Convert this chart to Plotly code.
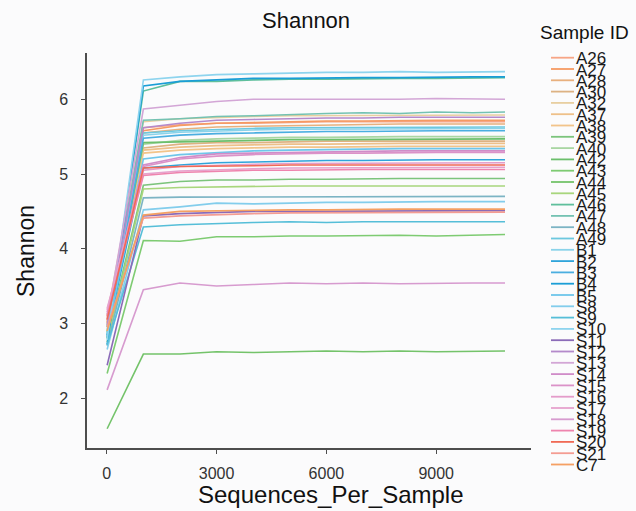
import plotly.graph_objects as go

seq_per_sample = [10, 1000, 2000, 3000, 4000, 5000, 6000, 7000, 8000, 9000, 10000, 10880]

sample_ids = ["A26", "A27", "A28", "A30", "A32", "A37", "A38", "A39", "A40", "A42", "A43",
              "A44", "A45", "A46", "A47", "A48", "A49", "B1", "B2", "B3", "B4", "B5",
              "S8", "S9", "S10", "S11", "S12", "S13", "S14", "S15", "S16", "S17", "S18",
              "S19", "S20", "S21", "C7"]

colors = ["#F7A585", "#F59A62", "#E8B07E", "#DDB283", "#E8CFA0", "#EEC089", "#F2C48A",
          "#7CC47C", "#A9D6A2", "#6CBF6C", "#7ECB72", "#74C36A", "#A8D67C", "#5FBF9C",
          "#74C2B2", "#7CB4C4", "#6CC8DF", "#8AD3EA", "#2FA4DA", "#4AAEE0", "#1B9ED6",
          "#6EC6EA", "#82CDEC", "#56BED8", "#8ED4EE", "#8B6BB8", "#B48ACB", "#D3A6D6",
          "#D08CC8", "#DB92C8", "#E49CCA", "#E6A2CD", "#D79BCF", "#EE84AE", "#F06A55",
          "#F49C92", "#F5A063"]

shannon = {
    "A26": [3.08, 5.62, 5.66, 5.68, 5.68, 5.69, 5.70, 5.70, 5.70, 5.70, 5.70, 5.70],
    "A27": [3.02, 5.58, 5.65, 5.68, 5.69, 5.70, 5.71, 5.71, 5.72, 5.72, 5.72, 5.72],
    "A28": [3.00, 5.55, 5.60, 5.63, 5.64, 5.65, 5.66, 5.66, 5.67, 5.67, 5.67, 5.67],
    "A30": [2.96, 5.35, 5.40, 5.42, 5.42, 5.43, 5.44, 5.44, 5.44, 5.44, 5.44, 5.44],
    "A32": [3.10, 5.70, 5.74, 5.76, 5.77, 5.78, 5.78, 5.79, 5.79, 5.79, 5.79, 5.79],
    "A37": [3.05, 5.32, 5.36, 5.38, 5.39, 5.40, 5.40, 5.41, 5.41, 5.41, 5.41, 5.41],
    "A38": [3.00, 5.28, 5.32, 5.34, 5.35, 5.36, 5.36, 5.37, 5.37, 5.37, 5.37, 5.37],
    "A39": [2.80, 4.85, 4.90, 4.92, 4.92, 4.93, 4.93, 4.94, 4.94, 4.94, 4.94, 4.94],
    "A40": [2.90, 5.40, 5.45, 5.47, 5.48, 5.49, 5.49, 5.50, 5.50, 5.50, 5.50, 5.50],
    "A42": [2.88, 5.42, 5.43, 5.44, 5.45, 5.46, 5.46, 5.46, 5.47, 5.47, 5.47, 5.47],
    "A43": [2.33, 4.11, 4.10, 4.16, 4.16, 4.17, 4.17, 4.18, 4.18, 4.17, 4.18, 4.19],
    "A44": [1.59, 2.59, 2.59, 2.62, 2.61, 2.62, 2.63, 2.62, 2.63, 2.62, 2.63, 2.63],
    "A45": [2.75, 4.80, 4.82, 4.83, 4.83, 4.84, 4.84, 4.84, 4.84, 4.84, 4.84, 4.84],
    "A46": [2.80, 6.11, 6.24, 6.24, 6.26, 6.27, 6.27, 6.28, 6.28, 6.28, 6.28, 6.29],
    "A47": [2.95, 5.72, 5.74, 5.77, 5.78, 5.80, 5.81, 5.82, 5.81, 5.83, 5.82, 5.83],
    "A48": [2.70, 4.68, 4.69, 4.69, 4.70, 4.70, 4.70, 4.70, 4.70, 4.70, 4.70, 4.70],
    "A49": [2.85, 5.55, 5.58, 5.60, 5.61, 5.62, 5.62, 5.63, 5.63, 5.63, 5.63, 5.63],
    "B1":  [2.92, 5.52, 5.56, 5.58, 5.59, 5.60, 5.60, 5.61, 5.61, 5.61, 5.61, 5.61],
    "B2":  [2.84, 5.08, 5.12, 5.15, 5.16, 5.17, 5.18, 5.18, 5.19, 5.19, 5.19, 5.19],
    "B3":  [2.82, 5.48, 5.52, 5.54, 5.55, 5.56, 5.57, 5.57, 5.58, 5.58, 5.58, 5.58],
    "B4":  [2.72, 6.18, 6.24, 6.26, 6.28, 6.28, 6.29, 6.29, 6.29, 6.30, 6.30, 6.30],
    "B5":  [2.86, 5.20, 5.26, 5.29, 5.31, 5.32, 5.33, 5.33, 5.34, 5.34, 5.34, 5.34],
    "S8":  [2.65, 4.52, 4.56, 4.61, 4.60, 4.61, 4.62, 4.62, 4.63, 4.63, 4.63, 4.63],
    "S9":  [2.71, 4.29, 4.32, 4.34, 4.35, 4.36, 4.35, 4.36, 4.36, 4.36, 4.36, 4.36],
    "S10": [2.78, 6.26, 6.30, 6.33, 6.34, 6.35, 6.36, 6.36, 6.37, 6.36, 6.37, 6.37],
    "S11": [2.44, 4.44, 4.47, 4.49, 4.50, 4.50, 4.50, 4.51, 4.51, 4.51, 4.51, 4.51],
    "S12": [2.98, 5.62, 5.68, 5.72, 5.73, 5.74, 5.75, 5.75, 5.76, 5.76, 5.76, 5.76],
    "S13": [3.05, 5.87, 5.92, 5.97, 6.00, 6.00, 6.00, 5.99, 6.00, 6.01, 6.00, 6.00],
    "S14": [3.12, 5.12, 5.22, 5.27, 5.28, 5.29, 5.30, 5.30, 5.31, 5.31, 5.31, 5.31],
    "S15": [3.15, 5.10, 5.20, 5.24, 5.26, 5.27, 5.28, 5.28, 5.29, 5.29, 5.29, 5.29],
    "S16": [3.18, 5.05, 5.10, 5.12, 5.13, 5.14, 5.14, 5.15, 5.15, 5.15, 5.15, 5.15],
    "S17": [3.20, 5.00, 5.04, 5.06, 5.07, 5.08, 5.08, 5.09, 5.09, 5.09, 5.09, 5.09],
    "S18": [2.11, 3.45, 3.54, 3.50, 3.52, 3.54, 3.53, 3.54, 3.53, 3.54, 3.54, 3.54],
    "S19": [3.10, 4.98, 5.02, 5.04, 5.05, 5.05, 5.06, 5.06, 5.06, 5.06, 5.06, 5.06],
    "S20": [3.05, 5.08, 5.10, 5.11, 5.11, 5.12, 5.12, 5.12, 5.12, 5.12, 5.12, 5.12],
    "S21": [2.95, 4.41, 4.44, 4.46, 4.47, 4.48, 4.48, 4.49, 4.49, 4.49, 4.49, 4.49],
    "C7":  [2.90, 4.45, 4.50, 4.51, 4.52, 4.52, 4.52, 4.53, 4.53, 4.53, 4.53, 4.53],
}

x_ticks = [0, 3000, 6000, 9000]
y_ticks = [2, 3, 4, 5, 6]

FONT = "Liberation Sans, Arial, sans-serif"
W, H = 636, 511
L, R, T, B = 87, 105, 53, 63
PW, PH = W - L - R, H - T - B


def px2paper_x(px):
    return (px - L) / PW


def px2paper_y(py):
    return (H - B - py) / PH


fig = go.Figure()
for sid, col in zip(sample_ids, colors):
    fig.add_trace(go.Scatter(x=seq_per_sample, y=shannon[sid], mode="lines", name=sid,
                             line=dict(color=col, width=1.6), showlegend=False))

axis_col = "#4D4D4D"
fig.update_layout(
    width=W, height=H,
    margin=dict(l=L, r=R, t=T, b=B),
    paper_bgcolor="#FBFBFC", plot_bgcolor="#FBFBFC",
    font=dict(family=FONT, color="#333333"),
    showlegend=False,
    xaxis=dict(range=[-540, 11590], tickvals=x_ticks, ticks="outside", ticklen=4,
               tickcolor=axis_col, showline=True, linecolor=axis_col, linewidth=1.5,
               showgrid=False, zeroline=False, tickfont=dict(size=16, color="#333333"),
               ticklabelstandoff=6),
    yaxis=dict(range=[1.332, 6.62], tickvals=y_ticks, ticks="outside", ticklen=4,
               tickcolor=axis_col, showline=True, linecolor=axis_col, linewidth=1.5,
               showgrid=False, zeroline=False, tickfont=dict(size=16, color="#333333"),
               ticklabelstandoff=10),
)

ann = []
# titles
ann.append(dict(text="Shannon", x=px2paper_x(306), y=px2paper_y(20), xref="paper", yref="paper",
                showarrow=False, font=dict(size=22, color="#111111"), xanchor="center", yanchor="middle"))
ann.append(dict(text="Sequences_Per_Sample", x=px2paper_x(331), y=px2paper_y(494), xref="paper", yref="paper",
                showarrow=False, font=dict(size=24, color="#111111"), xanchor="center", yanchor="middle"))
ann.append(dict(text="Shannon", x=px2paper_x(26), y=px2paper_y(251), xref="paper", yref="paper",
                showarrow=False, textangle=-90, font=dict(size=23, color="#111111"),
                xanchor="center", yanchor="middle"))
# manual legend
ann.append(dict(text="Sample ID", x=px2paper_x(584), y=px2paper_y(33), xref="paper", yref="paper",
                showarrow=False, font=dict(size=19, color="#111111"), xanchor="center", yanchor="middle"))
shapes = []
for i, (sid, col) in enumerate(zip(sample_ids, colors)):
    py = 57.7 + 11.3 * i
    shapes.append(dict(type="line", xref="paper", yref="paper",
                       x0=px2paper_x(551), x1=px2paper_x(574), y0=px2paper_y(py), y1=px2paper_y(py),
                       line=dict(color=col, width=1.8)))
    ann.append(dict(text=sid, x=px2paper_x(574), y=px2paper_y(py + 1), xref="paper", yref="paper",
                    showarrow=False, font=dict(size=17, color="#1a1a1a"), xanchor="left",
                    yanchor="middle"))

fig.update_layout(annotations=ann, shapes=shapes)
fig.write_html("out.html", config={"displayModeBar": False},
               post_script="document.body.style.margin='0';")
